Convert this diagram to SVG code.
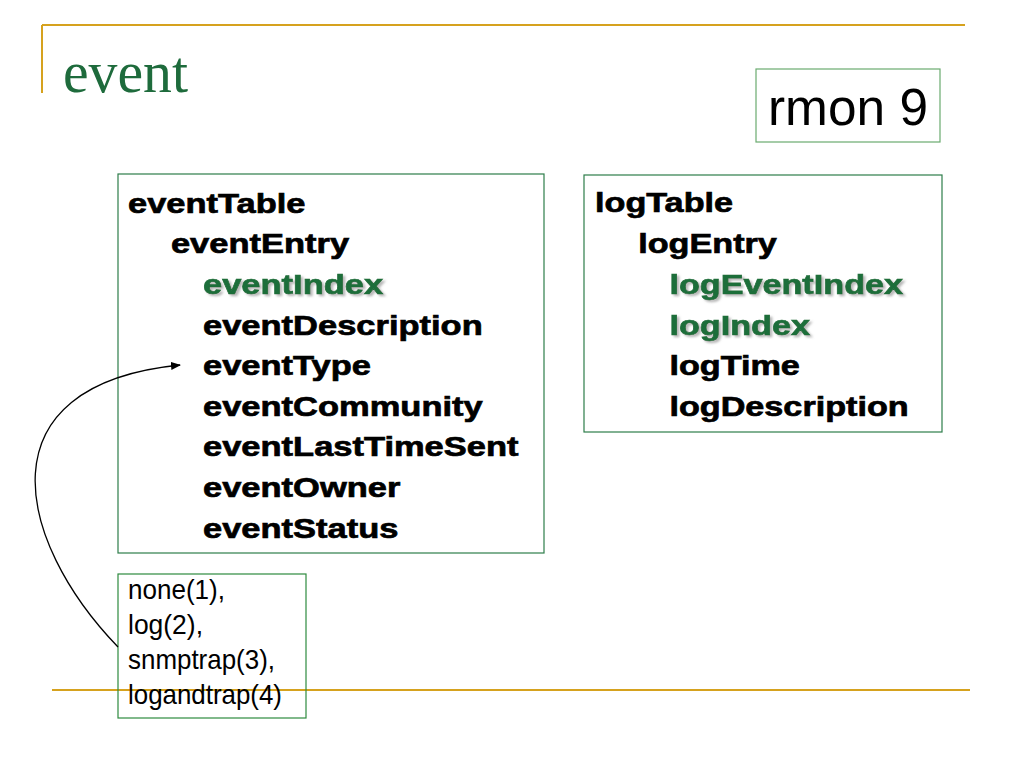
<svg xmlns="http://www.w3.org/2000/svg" width="1024" height="768" viewBox="0 0 1024 768">
<style>
.gold{stroke:#d6a21e;stroke-width:2;fill:none}
.box{fill:#fff;stroke:#2e7d4a;stroke-width:1.2}
.b{font-family:"Liberation Sans",Arial,sans-serif;font-weight:bold;font-size:28.5px;fill:#000;stroke:#000;stroke-width:0.7}
.g{fill:#1f6e3a;stroke:#1f6e3a;filter:url(#sh)}
.s{font-family:"Liberation Sans",Arial,sans-serif;font-size:28px;fill:#000}
</style>
<defs>
<filter id="sh" x="-10%" y="-30%" width="130%" height="180%">
<feDropShadow dx="2" dy="2" stdDeviation="1" flood-color="#888" flood-opacity="0.6"/>
</filter>
<marker id="arr" markerWidth="10" markerHeight="8" refX="9" refY="4" orient="auto" markerUnits="userSpaceOnUse">
<path d="M0,0 L10,4 L0,8 Z" fill="#000"/>
</marker>
</defs>
<rect width="1024" height="768" fill="#fff"/>
<g id="frame">
<line class="gold" x1="42" y1="25" x2="965" y2="25"/>
<line class="gold" x1="42" y1="25" x2="42" y2="93"/>
<line class="gold" x1="52" y1="690" x2="970" y2="690"/>
</g>
<g id="title">
<text x="63" y="92" font-family="Liberation Serif,'Times New Roman',serif" font-size="60" fill="#1e6b3c" textLength="125" lengthAdjust="spacingAndGlyphs">event</text>
</g>
<g id="rmon">
<rect x="756" y="69" width="184" height="73" fill="#fff" stroke="#6aab6f" stroke-width="1.2"/>
<text x="768" y="125" font-family="Liberation Sans,Arial,sans-serif" font-size="52" fill="#000" textLength="160" lengthAdjust="spacingAndGlyphs">rmon 9</text>
</g>
<g id="eventTable">
<rect class="box" x="118" y="174" width="426" height="379"/>
<g transform="translate(128,0) scale(1.21,1)">
<text class="b" x="0" y="213">eventTable</text>
<text class="b" x="35.5" y="253">eventEntry</text>
<text class="b g" x="62" y="294">eventIndex</text>
<text class="b" x="62" y="335">eventDescription</text>
<text class="b" x="62" y="375">eventType</text>
<text class="b" x="62" y="416">eventCommunity</text>
<text class="b" x="62" y="456">eventLastTimeSent</text>
<text class="b" x="62" y="497">eventOwner</text>
<text class="b" x="62" y="538">eventStatus</text>
</g>
</g>
<g id="logTable">
<rect class="box" x="584" y="175" width="358" height="257"/>
<g transform="translate(595,0) scale(1.2,1)">
<text class="b" x="0" y="212">logTable</text>
<text class="b" x="36" y="253">logEntry</text>
<text class="b g" x="62" y="294">logEventIndex</text>
<text class="b g" x="62" y="335">logIndex</text>
<text class="b" x="62" y="375">logTime</text>
<text class="b" x="62" y="416">logDescription</text>
</g>
</g>
<g id="typeValues">
<rect x="118" y="574" width="188" height="144" fill="none" stroke="#2e8a3e" stroke-width="1.2"/>
<text class="s" x="128" y="599" textLength="97" lengthAdjust="spacingAndGlyphs">none(1),</text>
<text class="s" x="128" y="634" textLength="75" lengthAdjust="spacingAndGlyphs">log(2),</text>
<text class="s" x="128" y="669" textLength="147" lengthAdjust="spacingAndGlyphs">snmptrap(3),</text>
<text class="s" x="128" y="704" textLength="154" lengthAdjust="spacingAndGlyphs">logandtrap(4)</text>
</g>
<g id="connectors">
<path d="M118,647 C15,540 -20,385 180,365" fill="none" stroke="#000" stroke-width="1.3" marker-end="url(#arr)"/>
</g>
</svg>
